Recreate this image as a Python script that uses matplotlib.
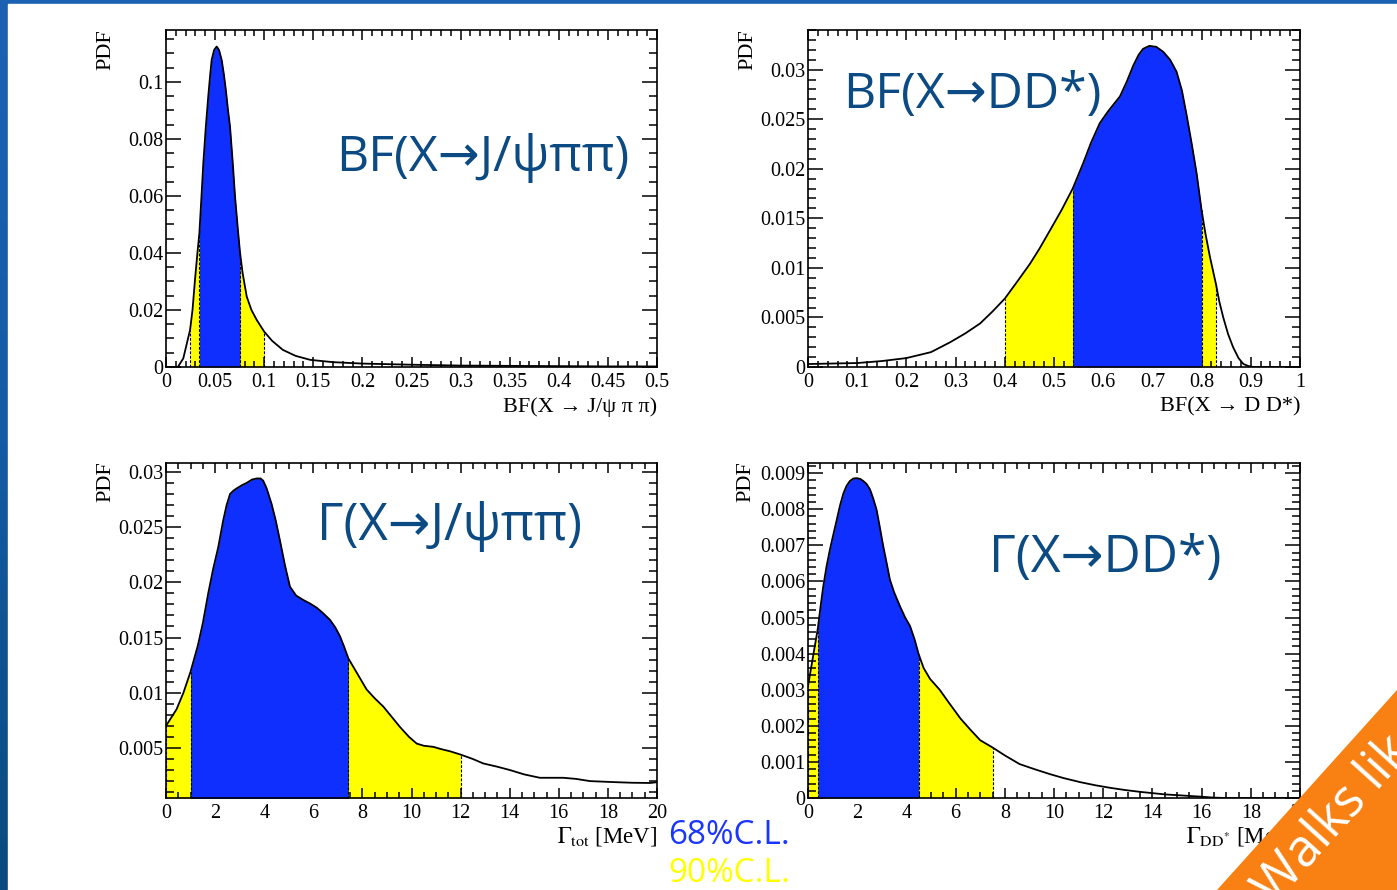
import numpy as np
import matplotlib
matplotlib.use("Agg")
import matplotlib.pyplot as plt
from matplotlib.ticker import MultipleLocator, FuncFormatter
from matplotlib.patches import Rectangle, Polygon

plt.rcParams['mathtext.fontset'] = 'stix'

W, H = 1397, 890

# ---------------- data ----------------
# BF(X -> J/psi pi pi)
bf_jpsi_x = [0.000, 0.012, 0.0176, 0.0245, 0.027, 0.0295, 0.032, 0.034, 0.036, 0.038,
             0.0405, 0.043, 0.045, 0.0465, 0.049, 0.0516, 0.054, 0.0567, 0.059, 0.061,
             0.063, 0.0652, 0.068, 0.0703, 0.073, 0.0754, 0.078, 0.0822, 0.087, 0.0924,
             0.100, 0.108, 0.119, 0.132, 0.147, 0.17, 0.20, 0.25, 0.30, 0.35, 0.40,
             0.45, 0.50]
bf_jpsi_y = [0.0, 0.0, 0.003, 0.013, 0.020, 0.0305, 0.040, 0.047, 0.059, 0.0715,
             0.084, 0.0948, 0.1025, 0.1077, 0.1112, 0.1124, 0.1112, 0.1077, 0.1025, 0.097,
             0.0905, 0.0843, 0.0715, 0.0598, 0.049, 0.040, 0.033, 0.0247, 0.0200, 0.0165,
             0.0124, 0.0092, 0.006, 0.0039, 0.0025, 0.0017, 0.0012, 0.0008, 0.0005, 0.0004,
             0.0003, 0.0002, 0.0002]
bf_jpsi_68 = (0.034, 0.0754)
bf_jpsi_90 = (0.0245, 0.100)

# BF(X -> D D*)
bf_dd_x = [0.0, 0.05, 0.1, 0.15, 0.2, 0.25, 0.289, 0.32, 0.35, 0.375, 0.400, 0.425,
           0.451, 0.47, 0.492, 0.515, 0.538, 0.5596, 0.575, 0.593, 0.61, 0.634, 0.648,
           0.661, 0.672, 0.681, 0.694, 0.708, 0.722, 0.736, 0.749, 0.760, 0.770, 0.780,
           0.790, 0.800, 0.808, 0.817, 0.829, 0.836, 0.844, 0.854, 0.864, 0.875, 0.885,
           0.895, 0.905, 1.0]
bf_dd_y = [0.0003, 0.00035, 0.0004, 0.0006, 0.0009, 0.0015, 0.0025, 0.0034, 0.0044,
           0.0056, 0.0069, 0.0086, 0.0104, 0.0119, 0.0138, 0.0158, 0.0180, 0.0206,
           0.0226, 0.0246, 0.0258, 0.0273, 0.0288, 0.0304, 0.0315, 0.0321, 0.0324,
           0.0323, 0.0318, 0.0310, 0.0298, 0.0279, 0.0253, 0.0225, 0.0195, 0.0158,
           0.0134, 0.0111, 0.0084, 0.0066, 0.0050, 0.0033, 0.0020, 0.0009, 0.0003,
           0.0001, 0.0, 0.0]
bf_dd_68 = (0.538, 0.800)
bf_dd_90 = (0.400, 0.829)

# Gamma_tot from J/psi pi pi  [MeV]
g_jpsi_x = [0.0, 0.2, 0.43, 0.71, 1.0, 1.3, 1.5, 1.72, 1.92, 2.13, 2.33, 2.47, 2.61,
            2.75, 2.88, 3.1, 3.29, 3.5, 3.69, 3.85, 3.96, 4.1, 4.30, 4.47, 4.64, 4.85,
            5.05, 5.3, 5.59, 5.85, 6.14, 6.4, 6.68, 6.9, 7.09, 7.25, 7.43, 7.8, 8.17,
            8.5, 8.85, 9.2, 9.53, 9.9, 10.21, 10.5, 10.89, 11.2, 11.57, 12.0, 12.5,
            12.92, 13.5, 14.01, 14.6, 15.23, 15.7, 16.18, 16.7, 17.27, 17.8, 18.35,
            19.0, 19.72, 20.0]
g_jpsi_y = [0.0070, 0.0077, 0.0085, 0.0100, 0.0119, 0.0143, 0.0163, 0.0190, 0.0212,
            0.0232, 0.0256, 0.0270, 0.0280, 0.0283, 0.0285, 0.0288, 0.0290, 0.0293,
            0.0294, 0.0294, 0.0292, 0.0285, 0.0271, 0.0256, 0.0238, 0.0215, 0.0196,
            0.0188, 0.0184, 0.0181, 0.0177, 0.0172, 0.0166, 0.0159, 0.0151, 0.0142,
            0.0131, 0.0117, 0.0103, 0.0095, 0.00875, 0.0078, 0.0069, 0.0060, 0.0054,
            0.0052, 0.0051, 0.0049, 0.0047, 0.0044, 0.0040, 0.0036, 0.0033, 0.0030,
            0.0026, 0.0023, 0.0023, 0.0023, 0.0022, 0.0020, 0.00195, 0.0019, 0.00185,
            0.00183, 0.0019]
g_jpsi_68 = (1.0, 7.43)
g_jpsi_90 = (0.0, 12.0)

# Gamma from D D*  [MeV]
g_dd_x = [0.0, 0.2, 0.4, 0.51, 0.62, 0.75, 0.89, 1.03, 1.17, 1.30, 1.44, 1.57, 1.70,
          1.84, 1.98, 2.12, 2.25, 2.38, 2.52, 2.65, 2.79, 2.92, 3.06, 3.2, 3.33, 3.5,
          3.74, 3.95, 4.15, 4.33, 4.50, 4.7, 4.96, 5.35, 5.77, 6.2, 6.59, 7.0, 7.50,
          8.0, 8.6, 9.2, 9.84, 10.4, 11.06, 11.7, 12.3, 12.9, 13.5, 14.5, 15.2, 15.9,
          16.5, 17.0, 20.0]
g_dd_y = [0.0031, 0.0039, 0.0047, 0.0053, 0.00586, 0.0064, 0.00688, 0.0073, 0.00771,
          0.0081, 0.00844, 0.00865, 0.00878, 0.00885, 0.00886, 0.00884, 0.00878,
          0.00870, 0.00855, 0.0083, 0.00798, 0.0075, 0.00697, 0.0065, 0.00605, 0.0057,
          0.00531, 0.0050, 0.00476, 0.0044, 0.00398, 0.0036, 0.0033, 0.0030, 0.0026,
          0.0022, 0.0019, 0.0016, 0.0014, 0.00118, 0.00094, 0.0008, 0.00066, 0.00055,
          0.00044, 0.00035, 0.00028, 0.00022, 0.00017, 0.0001, 0.00007, 0.00004,
          0.00001, 0.0, 0.0]
g_dd_68 = (0.4, 4.5)
g_dd_90 = (0.0, 7.5)

BLUE = '#0f2fff'
YELLOW = '#ffff00'
TITLE = '#0b4a82'
SERIF = ['Liberation Serif', 'DejaVu Serif']
SANS = ['Open Sans', 'DejaVu Sans']

fig = plt.figure(figsize=(W / 100, H / 100), dpi=100)


def fx(px):
    return px / W


def fy(py):
    return 1 - py / H


# slide background: blue frame with white page
bg = fig.add_axes([0, 0, 1, 1], zorder=-10)
grad = np.linspace(0, 1, 256).reshape(-1, 1)
cmap = matplotlib.colors.LinearSegmentedColormap.from_list('frame', ['#1c62b2', '#145aa4', '#0a4a7c'])
bg.imshow(grad, extent=[0, 1, 0, 1], aspect='auto', cmap=cmap, origin='upper')
bg.add_patch(Rectangle((fx(8), 0), 1 - fx(8), fy(4), color='white', transform=bg.transAxes))
bg.set_xlim(0, 1)
bg.set_ylim(0, 1)
bg.axis('off')


def fmt(v, pos):
    return '%g' % round(v, 6)


def panel(l, r, t, b, x, y, c68, c90, xlim, ylim, xmaj, xmin, ymaj, ymin):
    ax = fig.add_axes([fx(l), fy(b), fx(r) - fx(l), fy(t) - fy(b)])
    x = np.asarray(x)
    y = np.asarray(y)
    m90 = (x >= c90[0] - 1e-9) & (x <= c90[1] + 1e-9)
    m68 = (x >= c68[0] - 1e-9) & (x <= c68[1] + 1e-9)
    ax.fill_between(x[m90], 0, y[m90], color=YELLOW, lw=0, zorder=1)
    ax.fill_between(x[m68], 0, y[m68], color=BLUE, lw=0, zorder=2)
    for edge in (c90[0], c68[0], c68[1], c90[1]):
        i = int(np.argmin(np.abs(x - edge)))
        ax.vlines(x[i], 0, y[i], colors='black', linestyles=(0, (2.5, 1.5)), lw=0.8, zorder=3)
    ax.plot(x, y, color='black', lw=1.3, zorder=4, solid_joinstyle='round')
    ax.set_xlim(*xlim)
    ax.set_ylim(*ylim)
    ax.xaxis.set_major_locator(MultipleLocator(xmaj))
    ax.xaxis.set_minor_locator(MultipleLocator(xmin))
    ax.yaxis.set_major_locator(MultipleLocator(ymaj))
    ax.yaxis.set_minor_locator(MultipleLocator(ymin))
    ax.xaxis.set_major_formatter(FuncFormatter(fmt))
    ax.yaxis.set_major_formatter(FuncFormatter(fmt))
    ax.tick_params(which='both', direction='in', top=True, right=True, width=1.1)
    ax.tick_params(axis='x', which='major', length=7.5, pad=4)
    ax.tick_params(axis='x', which='minor', length=4)
    ax.tick_params(axis='y', which='major', length=11, pad=2)
    ax.tick_params(axis='y', which='minor', length=5.5)
    for lab in ax.get_xticklabels() + ax.get_yticklabels():
        lab.set_family(SERIF)
        lab.set_fontsize(14.5)
    for s in ax.spines.values():
        s.set_linewidth(1.2)
    return ax


panel(166, 657, 30, 367, bf_jpsi_x, bf_jpsi_y, bf_jpsi_68, bf_jpsi_90,
      (0, 0.5), (0, 0.1182), 0.05, 0.01, 0.02, 0.005)
panel(808, 1300, 30, 367, bf_dd_x, bf_dd_y, bf_dd_68, bf_dd_90,
      (0, 1), (0, 0.0340), 0.1, 0.02, 0.005, 0.001)
panel(166, 657, 463, 798, g_jpsi_x, g_jpsi_y, g_jpsi_68, g_jpsi_90,
      (0, 20), (0.00047, 0.0308), 2, 0.5, 0.005, 0.001)
panel(808, 1300, 463, 798, g_dd_x, g_dd_y, g_dd_68, g_dd_90,
      (0, 20), (0, 0.00928), 2, 0.5, 0.001, 0.0002)

# y titles
for px, py in ((106, 29), (748, 29), (106, 461), (746, 461)):
    fig.text(fx(px), fy(py), 'PDF', rotation=90, ha='center', va='top',
             family=SERIF, fontsize=16)

# x titles
fig.text(fx(657), fy(407), 'BF(X → J/ψ π π)', ha='right', va='center', family=SERIF, fontsize=16)
fig.text(fx(1300), fy(407), 'BF(X → D D*)', ha='right', va='center', family=SERIF, fontsize=16)
fig.text(fx(657), fy(836), r'$\Gamma_{\mathrm{tot}}$ [MeV]', ha='right', va='center', family=SERIF, fontsize=16.5)
fig.text(fx(1186), fy(836), r'$\Gamma_{\mathrm{DD^{*}}}$ [MeV]', ha='left', va='center', family=SERIF, fontsize=16.5)

# panel captions
fig.text(fx(483), fy(158), 'BF(X→J/ψππ)', ha='center', va='center', family=SANS, fontsize=36, color=TITLE)
fig.text(fx(972), fy(95), 'BF(X→DD*)', ha='center', va='center', family=SANS, fontsize=36, color=TITLE)
fig.text(fx(449), fy(527), 'Γ(X→J/ψππ)', ha='center', va='center', family=SANS, fontsize=36.5, color=TITLE)
fig.text(fx(1105), fy(558), 'Γ(X→DD*)', ha='center', va='center', family=SANS, fontsize=37, color=TITLE)

# confidence level key
fig.text(fx(668), fy(835), '68%C.L.', ha='left', va='center', family=SANS, fontsize=24, color='#1a35ff')
fig.text(fx(668), fy(873), '90%C.L.', ha='left', va='center', family=SANS, fontsize=24, color=YELLOW)

# corner banner
fig.patches.append(Polygon([(fx(1217), fy(890)), (fx(1397), fy(690)), (fx(1397), fy(890))],
                           closed=True, transform=fig.transFigure, facecolor='#f98012',
                           edgecolor='none', zorder=20))
fig.text(fx(1274), fy(906), 'Walks like', rotation=48, rotation_mode='anchor',
         ha='left', va='baseline', family=SANS, fontsize=37, color='white', zorder=21)

fig.savefig('out.png', dpi=100)
